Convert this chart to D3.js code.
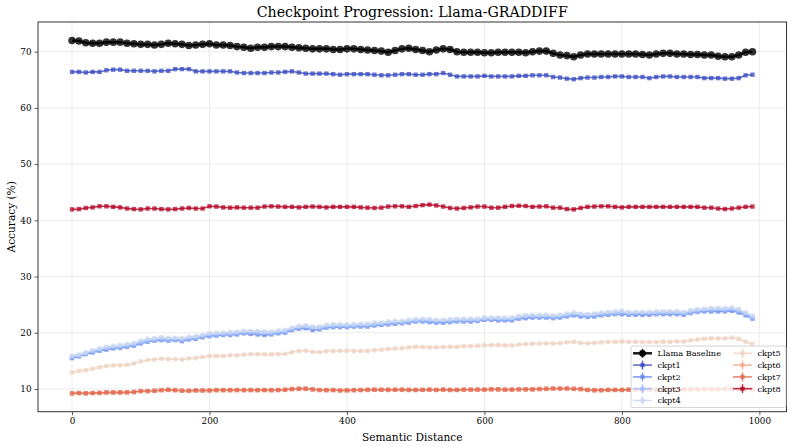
<!DOCTYPE html>
<html><head><meta charset="utf-8">
<script src="https://cdn.jsdelivr.net/npm/d3@7"></script>
<style>
body{margin:0;background:#fff}
svg{display:block}
text{font-family:"DejaVu Serif",serif;fill:#000}
</style>
</head><body>
<svg id="chart" width="793" height="447"></svg>
<script>
const distance = [0,10,20,30,40,50,60,70,80,90,100,110,120,130,140,150,160,170,180,190,200,210,220,230,240,250,260,270,280,290,300,310,320,330,340,350,360,370,380,390,400,410,420,430,440,450,460,470,480,490,500,510,520,530,540,550,560,570,580,590,600,610,620,630,640,650,660,670,680,690,700,710,720,730,740,750,760,770,780,790,800,810,820,830,840,850,860,870,880,890,900,910,920,930,940,950,960,970,980,990];

const baseline = [72.0,71.9,71.6,71.5,71.5,71.7,71.7,71.7,71.5,71.4, 71.3,71.3,71.2,71.3,71.5,71.4,71.3,71.1,71.2,71.3, 71.4,71.2,71.2,71.1,70.9,70.8,70.6,70.8,70.8,70.9, 70.9,70.9,70.8,70.7,70.6,70.5,70.5,70.5,70.4,70.4, 70.5,70.5,70.4,70.3,70.2,70.1,69.9,70.2,70.5,70.6, 70.4,70.2,70.0,70.3,70.5,70.4,70.0,69.9,69.9,69.9, 69.8,69.8,69.9,69.9,69.9,69.9,69.8,70.0,70.1,70.1, 69.7,69.4,69.3,69.1,69.4,69.6,69.6,69.6,69.6,69.6, 69.6,69.6,69.6,69.5,69.4,69.6,69.7,69.7,69.6,69.6, 69.5,69.5,69.4,69.4,69.2,69.1,69.1,69.4,69.9,70.0];

const ckpt1 = [66.4,66.4,66.3,66.4,66.4,66.7,66.8,66.8,66.6,66.6, 66.6,66.6,66.5,66.6,66.6,66.9,66.9,66.9,66.5,66.5, 66.5,66.5,66.5,66.5,66.3,66.2,66.2,66.2,66.2,66.3, 66.3,66.4,66.5,66.3,66.1,66.1,66.1,66.1,66.0,65.9, 66.0,66.0,66.0,66.0,65.9,65.8,65.8,65.9,66.0,66.0, 65.9,65.9,66.0,66.0,66.2,65.9,65.6,65.6,65.6,65.6, 65.7,65.6,65.6,65.6,65.6,65.7,65.7,65.8,65.8,65.8, 65.5,65.4,65.2,65.1,65.3,65.4,65.4,65.5,65.5,65.6, 65.6,65.5,65.5,65.5,65.3,65.5,65.6,65.6,65.5,65.5, 65.5,65.5,65.3,65.3,65.3,65.2,65.2,65.3,65.8,65.9];

const ckpt2 = [15.5,15.8,16.2,16.5,16.8,17.0,17.2,17.3,17.5,17.7, 18.1,18.4,18.6,18.7,18.6,18.7,18.5,18.8,18.9,19.2, 19.4,19.5,19.6,19.6,19.7,19.9,19.8,19.7,19.6,19.7, 19.9,20.0,20.5,20.7,20.8,20.5,20.6,20.9,21.0,21.0, 21.0,21.1,21.1,21.1,21.3,21.4,21.5,21.6,21.7,21.8, 22.0,22.0,21.9,21.8,21.8,21.9,22.0,22.0,22.0,22.1, 22.3,22.3,22.2,22.2,22.2,22.5,22.6,22.7,22.7,22.7, 22.6,22.7,22.9,23.1,22.9,22.8,22.9,23.1,23.2,23.3, 23.3,23.2,23.2,23.2,23.2,23.3,23.3,23.3,23.3,23.2, 23.5,23.7,23.8,23.8,23.8,23.8,23.9,23.6,23.1,22.5];

const ckpt3 = [15.7,15.9,16.3,16.7,17.0,17.3,17.4,17.5,17.7,17.9, 18.3,18.6,18.8,18.9,18.8,18.9,18.8,19.0,19.1,19.4, 19.6,19.7,19.8,19.8,19.9,20.1,20.1,20.0,20.0,19.9, 20.1,20.2,20.7,20.9,21.1,20.9,20.9,21.1,21.2,21.2, 21.2,21.3,21.3,21.3,21.5,21.6,21.7,21.8,21.9,22.0, 22.2,22.2,22.2,22.0,22.1,22.1,22.2,22.2,22.3,22.3, 22.5,22.5,22.5,22.4,22.4,22.7,22.9,22.9,22.9,22.9, 22.8,22.9,23.1,23.3,23.2,23.1,23.2,23.3,23.4,23.5, 23.6,23.4,23.5,23.5,23.5,23.5,23.6,23.6,23.6,23.5, 23.7,23.9,24.0,24.1,24.2,24.1,24.2,23.9,23.4,22.8];

const ckpt4 = [15.9,16.1,16.5,16.9,17.2,17.5,17.7,17.8,18.0,18.2, 18.6,18.9,19.0,19.2,19.1,19.1,19.0,19.3,19.4,19.6, 19.9,20.0,20.0,20.1,20.2,20.3,20.3,20.3,20.2,20.2, 20.4,20.5,20.9,21.2,21.3,21.1,21.1,21.4,21.5,21.5, 21.5,21.5,21.6,21.6,21.8,21.8,22.0,22.1,22.1,22.3, 22.4,22.5,22.4,22.3,22.3,22.4,22.5,22.5,22.5,22.5, 22.7,22.7,22.7,22.7,22.7,23.0,23.1,23.2,23.2,23.2, 23.1,23.2,23.4,23.6,23.4,23.3,23.4,23.6,23.7,23.8, 23.9,23.7,23.7,23.7,23.7,23.8,23.8,23.8,23.8,23.7, 24.0,24.2,24.3,24.4,24.4,24.4,24.5,24.2,23.6,23.0];

const ckpt5 = [12.95,13.2,13.35,13.6,13.85,14.1,14.2,14.25,14.3,14.55, 14.9,15.15,15.25,15.4,15.3,15.3,15.25,15.45,15.5,15.7, 15.85,15.85,15.85,16.0,16.0,16.1,16.2,16.2,16.15,16.15, 16.2,16.25,16.55,16.75,16.8,16.6,16.55,16.7,16.75,16.8, 16.8,16.75,16.75,16.8,16.9,17.0,17.1,17.2,17.25,17.4, 17.5,17.45,17.4,17.4,17.45,17.5,17.5,17.6,17.6,17.7, 17.75,17.8,17.8,17.75,17.75,17.9,18.0,18.05,18.1,18.1, 18.1,18.15,18.3,18.4,18.2,18.1,18.2,18.3,18.35,18.4, 18.45,18.4,18.4,18.35,18.35,18.35,18.4,18.4,18.45,18.45, 18.65,18.8,18.95,19.0,19.0,19.0,19.1,18.9,18.4,18.0];

const ckpt6 = [9.2,9.25,9.2,9.25,9.3,9.35,9.35,9.35,9.4,9.45, 9.6,9.6,9.65,9.75,9.8,9.75,9.7,9.65,9.7,9.7, 9.7,9.75,9.75,9.75,9.8,9.75,9.8,9.75,9.8,9.75, 9.8,9.85,9.95,10.0,10.0,9.9,9.8,9.75,9.8,9.7, 9.75,9.75,9.8,9.8,9.85,9.85,9.8,9.85,9.85,9.8, 9.8,9.85,9.85,9.8,9.85,9.8,9.8,9.85,9.85,9.85, 9.85,9.9,9.9,9.85,9.85,9.9,9.9,9.9,9.95,10.0, 10.05,10.05,10.05,10.0,9.95,9.8,9.75,9.75,9.8,9.8, 9.8,9.85,9.85,9.8,9.85,9.85,9.9,9.9,9.85,9.9, 9.9,9.95,9.95,9.95,9.95,10.0,10.0,9.95,9.95,9.9];

const ckpt7 = [9.23,9.3,9.23,9.3,9.3,9.4,9.4,9.4,9.4,9.47, 9.64,9.64,9.7,9.82,9.88,9.82,9.7,9.7,9.76,9.76, 9.76,9.82,9.82,9.82,9.82,9.82,9.82,9.82,9.82,9.82, 9.82,9.88,10.0,10.06,10.06,9.94,9.82,9.82,9.82,9.76, 9.76,9.82,9.82,9.88,9.88,9.88,9.88,9.88,9.88,9.85, 9.85,9.85,9.9,9.85,9.9,9.85,9.85,9.9,9.9,9.9, 9.9,9.95,9.95,9.9,9.9,9.95,9.95,9.95,10.0,10.05, 10.1,10.1,10.1,10.05,10.0,9.85,9.8,9.8,9.85,9.85, 9.85,9.9,9.9,9.85,9.9,9.9,9.95,9.95,9.9,9.95, 9.95,10.0,10.0,10.0,10.0,10.05,10.05,10.0,10.0,9.95];

const ckpt8 = [41.95,42.0,42.2,42.3,42.5,42.5,42.4,42.3,42.1,42.0, 41.95,42.1,42.1,42.0,41.95,42.0,42.1,42.2,42.1,42.1, 42.5,42.45,42.3,42.25,42.3,42.25,42.25,42.25,42.45,42.5, 42.45,42.4,42.4,42.3,42.4,42.45,42.4,42.3,42.4,42.4, 42.4,42.4,42.3,42.25,42.2,42.25,42.45,42.5,42.5,42.4, 42.55,42.7,42.8,42.65,42.45,42.2,42.1,42.2,42.3,42.45, 42.45,42.25,42.25,42.4,42.55,42.6,42.55,42.4,42.45,42.5, 42.25,42.25,42.0,41.95,42.2,42.4,42.45,42.5,42.5,42.4, 42.3,42.4,42.4,42.4,42.4,42.4,42.4,42.4,42.4,42.4, 42.4,42.4,42.25,42.25,42.1,42.0,42.1,42.25,42.4,42.45];

const seriesNames = ["Llama Baseline","ckpt1","ckpt2","ckpt3","ckpt4","ckpt5","ckpt6","ckpt7","ckpt8"];
const seriesValues = [baseline, ckpt1, ckpt2, ckpt3, ckpt4, ckpt5, ckpt6, ckpt7, ckpt8];
const seriesColors = ["#000000","#3b4cc0","#6788ee","#9abbff","#c9d7f0","#edd1c2","#f7a889","#e26952","#b40426"];
const xTicks = [0,200,400,600,800,1000];
const yTicks = [10,20,30,40,50,60,70];
const titleText = "Checkpoint Progression: Llama-GRADDIFF";
const xLabel = "Semantic Distance";
const yLabel = "Accuracy (%)";

const W = 793, H = 447;
const m = {left: 38, top: 22, right: 6.5, bottom: 35.3};
const svg = d3.select("#chart");

const x = d3.scaleLinear().domain([-49.5, 1039.5]).range([m.left, W - m.right]);
const y = d3.scaleLinear().domain([5.96, 75.28]).range([H - m.bottom, m.top]);

// grid
const grid = svg.append("g");
grid.selectAll(".gx").data(xTicks).join("line")
  .attr("x1", d => x(d)).attr("x2", d => x(d))
  .attr("y1", m.top).attr("y2", H - m.bottom)
  .attr("stroke", "#e6e6e6").attr("stroke-width", 0.8);
grid.selectAll(".gy").data(yTicks).join("line")
  .attr("x1", m.left).attr("x2", W - m.right)
  .attr("y1", d => y(d)).attr("y2", d => y(d))
  .attr("stroke", "#e6e6e6").attr("stroke-width", 0.8);

// series
const plot = svg.append("g");
const line = d3.line().x((d, i) => x(distance[i])).y(d => y(d));
seriesValues.forEach((vals, k) => {
  const g = plot.append("g");
  const col = seriesColors[k];
  if (k === 0) {
    g.append("path").attr("d", line(vals)).attr("fill", "none")
      .attr("stroke", col).attr("stroke-width", 2.5).attr("opacity", 0.9);
    g.selectAll("circle").data(vals).join("circle")
      .attr("cx", (d, i) => x(distance[i])).attr("cy", d => y(d))
      .attr("r", 3.8).attr("fill", col).attr("opacity", 0.8);
  } else {
    g.append("path").attr("d", line(vals)).attr("fill", "none")
      .attr("stroke", col).attr("stroke-width", 1.6).attr("opacity", 0.8);
    const s = 4.4;
    g.selectAll("rect").data(vals).join("rect")
      .attr("x", (d, i) => x(distance[i]) - s / 2).attr("y", d => y(d) - s / 2)
      .attr("width", s).attr("height", s).attr("fill", col).attr("opacity", 0.75);
  }
});

// axes
const xAxis = d3.axisBottom(x).tickValues(xTicks).tickFormat(d3.format("d")).tickSize(3.5).tickPadding(3);
const yAxis = d3.axisLeft(y).tickValues(yTicks).tickFormat(d3.format("d")).tickSize(3.5).tickPadding(3);
const gx = svg.append("g").attr("transform", `translate(0,${H - m.bottom})`).call(xAxis);
const gy = svg.append("g").attr("transform", `translate(${m.left},0)`).call(yAxis);
[gx, gy].forEach(g => {
  g.select(".domain").remove();
  g.selectAll(".tick line").attr("stroke", "#333").attr("stroke-width", 0.8);
  g.selectAll(".tick text").attr("font-family", "DejaVu Serif").attr("font-size", 8.8).attr("fill", "#222");
});

// frame
svg.append("rect").attr("x", m.left).attr("y", m.top)
  .attr("width", W - m.left - m.right).attr("height", H - m.top - m.bottom)
  .attr("fill", "none").attr("stroke", "#333").attr("stroke-width", 1);

// title & labels
svg.append("text").attr("x", (m.left + W - m.right) / 2).attr("y", 17)
  .attr("text-anchor", "middle").attr("font-size", 14.2).text(titleText);
svg.append("text").attr("x", (m.left + W - m.right) / 2).attr("y", 441)
  .attr("text-anchor", "middle").attr("font-size", 10.6).text(xLabel);
svg.append("text").attr("transform", `translate(15,${(m.top + H - m.bottom) / 2}) rotate(-90)`)
  .attr("text-anchor", "middle").attr("font-size", 10.6).text(yLabel);

// legend
const lg = svg.append("g").attr("transform", "translate(631,346)");
lg.append("rect").attr("x", 0).attr("y", 0).attr("width", 155).attr("height", 61.5)
  .attr("rx", 2).attr("fill", "#fff").attr("fill-opacity", 0.8)
  .attr("stroke", "#cccccc").attr("stroke-width", 0.8);
seriesNames.forEach((name, k) => {
  const col = k < 5 ? 0 : 1;
  const row = k < 5 ? k : k - 5;
  const gx0 = col === 0 ? 2 : 102;
  const gy0 = 7.3 + row * 11.8;
  const it = lg.append("g").attr("transform", `translate(${gx0},${gy0})`);
  const c = seriesColors[k];
  const op = k === 0 ? 0.9 : 0.8;
  it.append("line").attr("x1", 0).attr("x2", 19).attr("y1", 0).attr("y2", 0)
    .attr("stroke", c).attr("stroke-width", k === 0 ? 2.5 : 1.6).attr("opacity", op);
  it.append("line").attr("x1", 9.5).attr("x2", 9.5).attr("y1", -4.5).attr("y2", 4.5)
    .attr("stroke", c).attr("stroke-width", 1.5).attr("opacity", op);
  if (k === 0) {
    it.append("circle").attr("cx", 9.5).attr("cy", 0).attr("r", 3.4).attr("fill", c);
  } else {
    it.append("rect").attr("x", 7.4).attr("y", -2.1).attr("width", 4.2).attr("height", 4.2)
      .attr("fill", c).attr("opacity", 0.8);
  }
  it.append("text").attr("x", 24.5).attr("y", 2.8).attr("font-size", 8.2).text(name);
});
</script>
</body></html>
